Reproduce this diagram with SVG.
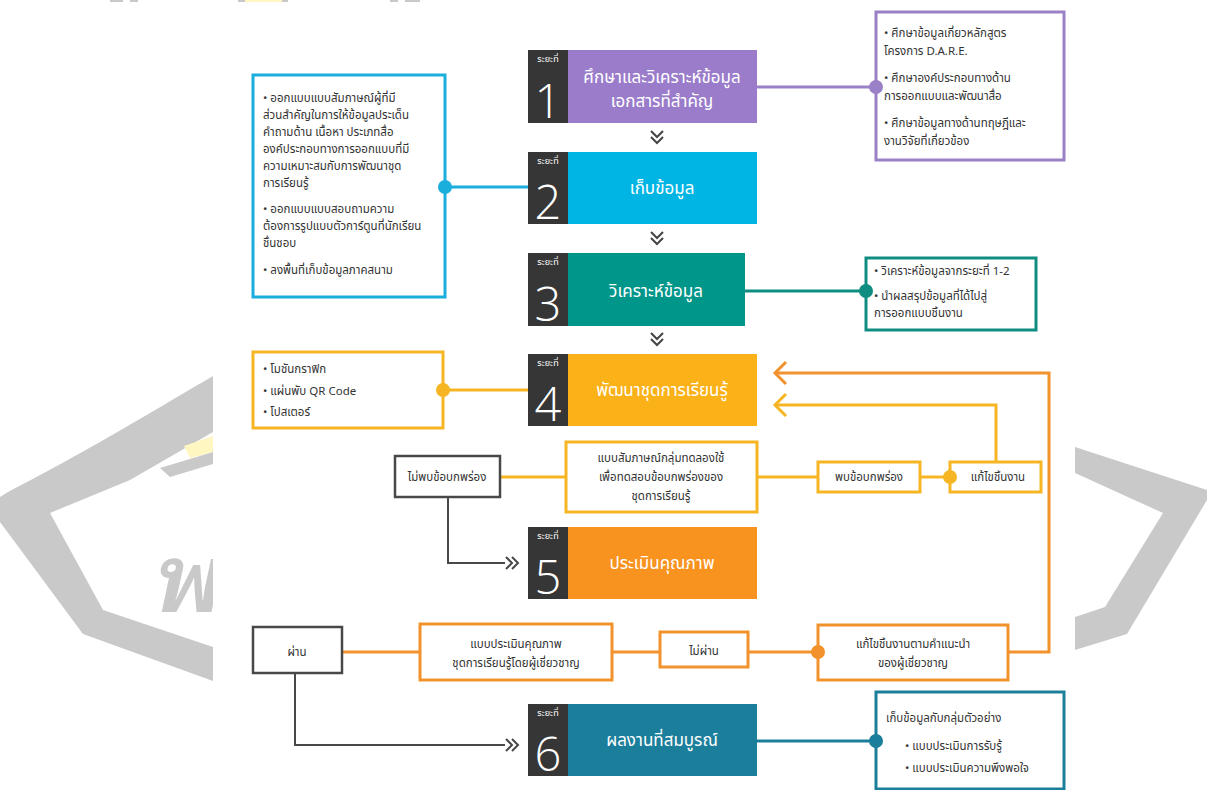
<svg xmlns="http://www.w3.org/2000/svg" width="1208" height="790" viewBox="0 0 1208 790">
  <style>
    .th { font-family: "Noto Sans Thai", "Noto Sans", "DejaVu Sans", sans-serif; }
    .stage-title { font-size: 17px; fill: #ffffff; text-anchor: middle; }
    .tag { font-size: 9px; fill: #ffffff; text-anchor: middle; }
    .digit { font-family: "Open Sans", "Lato", sans-serif; font-weight: 300; font-size: 47px; fill: #ffffff; text-anchor: middle; }
    .note { font-size: 11.5px; fill: #333333; }
    .lbl { font-size: 11.5px; fill: #333333; text-anchor: middle; }
    .dark { fill: #363636; }
    .box-amber { fill: #ffffff; stroke: #f6b624; stroke-width: 3; }
    .box-orange { fill: #ffffff; stroke: #f2922c; stroke-width: 3; }
    .box-grey { fill: #ffffff; stroke: #484848; stroke-width: 2.5; }
    .ln-amber { stroke: #f6b624; stroke-width: 3; fill: none; }
    .ln-orange { stroke: #f2922c; stroke-width: 3; fill: none; }
    .ln-grey { stroke: #484848; stroke-width: 2; fill: none; }
    .chev { stroke: #444444; stroke-width: 2; fill: none; }
    .wm { fill: #c9c9c9; }
  </style>

  <!-- background emblem -->
  <g id="emblem">
    <rect x="0" y="0" width="1208" height="790" fill="#ffffff"/>
    <path class="wm" d="M213,376 C175,398 90,450 8,492 L0,497 L0,522 L83,634 L213,681 L213,647 L103,610 L50,513 L130,480 L213,432 Z"/>
    <path d="M184,446 L213,436 L213,452 L190,458 Z" fill="#fff6c2"/>
    <path class="wm" d="M160,468 L213,452 L213,464 L170,477 Z"/>
    <text x="0" y="0" transform="translate(150,612) skewX(-12)" font-family="Noto Sans Thai Looped, Noto Sans Thai, sans-serif" font-weight="600" font-size="95" fill="#c9c9c9">พ</text>
    <path class="wm" d="M1075,447 L1207,490 L1207,500 L1127,634 L1075,650 L1075,617 L1105,607 L1163,513 L1075,473 Z"/>
    <rect x="110" y="0" width="13" height="2" fill="#c9c9c9"/>
    <rect x="130" y="0" width="8" height="2" fill="#c9c9c9"/>
    <rect x="238" y="0" width="7" height="2" fill="#c9c9c9"/>
    <rect x="245" y="0" width="37" height="2" fill="#fff6c2"/>
    <rect x="282" y="0" width="6" height="2" fill="#c9c9c9"/>
    <rect x="390" y="0" width="8" height="2" fill="#c9c9c9"/>
    <rect x="405" y="0" width="15" height="2" fill="#c9c9c9"/>
    <rect x="213" y="3" width="862" height="787" fill="#ffffff"/>
  </g>

  <!-- connectors -->
  <g id="connectors">
    <line x1="757" y1="87" x2="876" y2="87" stroke="#9a80c6" stroke-width="3"/>
    <line x1="445" y1="187" x2="528" y2="187" stroke="#1aaedc" stroke-width="3"/>
    <line x1="745" y1="291" x2="866" y2="291" stroke="#0f8d81" stroke-width="3"/>
    <line x1="443" y1="390" x2="528" y2="390" class="ln-amber"/>
    <line x1="757" y1="741" x2="876" y2="741" stroke="#1b7e9a" stroke-width="3"/>

    <!-- review row -->
    <line x1="500" y1="477" x2="566" y2="477" class="ln-amber"/>
    <line x1="757" y1="477" x2="818" y2="477" class="ln-amber"/>
    <line x1="920" y1="477" x2="950" y2="477" class="ln-amber"/>
    <path d="M996,462 L996,405 L775,405" class="ln-amber"/>
    <path d="M786,394 L775,405 L786,416" class="ln-amber"/>

    <!-- expert row -->
    <line x1="342" y1="652" x2="420" y2="652" class="ln-orange"/>
    <line x1="612" y1="652" x2="660" y2="652" class="ln-orange"/>
    <line x1="748" y1="652" x2="818" y2="652" class="ln-orange"/>
    <path d="M1008,652 L1049,652 L1049,373 L775,373" class="ln-orange"/>
    <path d="M786,362 L775,373 L786,384" class="ln-orange"/>

    <!-- pass / no-defect paths -->
    <path d="M448,497 L448,563 L505,563" class="ln-grey"/>
    <path d="M506,557 L512,563 L506,569 M512,557 L518,563 L512,569" class="ln-grey"/>
    <path d="M295,673 L295,745 L505,745" class="ln-grey"/>
    <path d="M506,739 L512,745 L506,751 M512,739 L518,745 L512,751" class="ln-grey"/>

    <!-- stage-to-stage chevrons -->
    <path d="M651,131 L657,137 L663,131 M651,137 L657,143 L663,137" class="chev"/>
    <path d="M651,232 L657,238 L663,232 M651,238 L657,244 L663,238" class="chev"/>
    <path d="M651,333 L657,339 L663,333 M651,339 L657,345 L663,339" class="chev"/>
  </g>

  <!-- stage 1 -->
  <g id="stage1" class="th">
    <rect x="567" y="50" width="190" height="73" fill="#9a7cca"/>
    <rect x="528" y="50" width="40" height="73" class="dark"/>
    <text x="548" y="62" class="tag th">ระยะที่</text>
    <text x="548" y="118" class="digit">1</text>
    <text x="662" y="83" class="stage-title th">ศึกษาและวิเคราะห์ข้อมูล</text>
    <text x="662" y="107" class="stage-title th">เอกสารที่สำคัญ</text>
  </g>

  <g id="note1" class="th">
    <rect x="876" y="12" width="188" height="148" fill="#ffffff" stroke="#9a80c6" stroke-width="3"/>
    <circle cx="876" cy="87" r="7" fill="#9a80c6"/>
    <text class="note th" x="884" y="37">• ศึกษาข้อมูลเกี่ยวหลักสูตร</text>
    <text class="note th" x="884" y="55">โครงการ D.A.R.E.</text>
    <text class="note th" x="884" y="82">• ศึกษาองค์ประกอบทางด้าน</text>
    <text class="note th" x="884" y="100">การออกแบบและพัฒนาสื่อ</text>
    <text class="note th" x="884" y="127">• ศึกษาข้อมูลทางด้านทฤษฎีและ</text>
    <text class="note th" x="884" y="145">งานวิจัยที่เกี่ยวข้อง</text>
  </g>

  <!-- stage 2 -->
  <g id="stage2" class="th">
    <rect x="567" y="152" width="190" height="72" fill="#00b5e4"/>
    <rect x="528" y="152" width="40" height="72" class="dark"/>
    <text x="548" y="164" class="tag th">ระยะที่</text>
    <text x="548" y="219" class="digit">2</text>
    <text x="662" y="194" class="stage-title th">เก็บข้อมูล</text>
  </g>

  <g id="note2" class="th">
    <rect x="253" y="75" width="192" height="222" fill="#ffffff" stroke="#1aaedc" stroke-width="3"/>
    <circle cx="445" cy="187" r="7" fill="#1aaedc"/>
    <text class="note th" x="263" y="102">• ออกแบบแบบสัมภาษณ์ผู้ที่มี</text>
    <text class="note th" x="263" y="119">ส่วนสำคัญในการให้ข้อมูลประเด็น</text>
    <text class="note th" x="263" y="136">คำถามด้าน เนื้อหา ประเภทสื่อ</text>
    <text class="note th" x="263" y="153">องค์ประกอบทางการออกแบบที่มี</text>
    <text class="note th" x="263" y="170">ความเหมาะสมกับการพัฒนาชุด</text>
    <text class="note th" x="263" y="187">การเรียนรู้</text>
    <text class="note th" x="263" y="213">• ออกแบบแบบสอบถามความ</text>
    <text class="note th" x="263" y="230">ต้องการรูปแบบตัวการ์ตูนที่นักเรียน</text>
    <text class="note th" x="263" y="247">ชื่นชอบ</text>
    <text class="note th" x="263" y="274">• ลงพื้นที่เก็บข้อมูลภาคสนาม</text>
  </g>

  <!-- stage 3 -->
  <g id="stage3" class="th">
    <rect x="567" y="253" width="178" height="73" fill="#00968a"/>
    <rect x="528" y="253" width="40" height="73" class="dark"/>
    <text x="548" y="265" class="tag th">ระยะที่</text>
    <text x="548" y="321" class="digit">3</text>
    <text x="656" y="297" class="stage-title th">วิเคราะห์ข้อมูล</text>
  </g>

  <g id="note3" class="th">
    <rect x="866" y="258" width="170" height="72" fill="#ffffff" stroke="#0f8d81" stroke-width="3"/>
    <circle cx="866" cy="291" r="7" fill="#0f8d81"/>
    <text class="note th" x="874" y="275">• วิเคราะห์ข้อมูลจากระยะที่ 1-2</text>
    <text class="note th" x="874" y="300">• นำผลสรุปข้อมูลที่ได้ไปสู่</text>
    <text class="note th" x="874" y="317">การออกแบบชิ้นงาน</text>
  </g>

  <!-- stage 4 -->
  <g id="stage4" class="th">
    <rect x="567" y="354" width="190" height="72" fill="#fbb118"/>
    <rect x="528" y="354" width="40" height="72" class="dark"/>
    <text x="548" y="366" class="tag th">ระยะที่</text>
    <text x="548" y="421" class="digit">4</text>
    <text x="662" y="396" class="stage-title th">พัฒนาชุดการเรียนรู้</text>
  </g>

  <g id="note4" class="th">
    <rect x="253" y="352" width="190" height="76" class="box-amber"/>
    <circle cx="443" cy="390" r="7" fill="#f6b624"/>
    <text class="note th" x="263" y="373">• โมชันกราฟิก</text>
    <text class="note th" x="263" y="395">• แผ่นพับ QR Code</text>
    <text class="note th" x="263" y="416">• โปสเตอร์</text>
  </g>

  <!-- trial review row -->
  <g id="no-defect" class="th">
    <rect x="395" y="456" width="105" height="41" class="box-grey"/>
    <text class="lbl th" x="447" y="481">ไม่พบข้อบกพร่อง</text>
  </g>
  <g id="trial-interview" class="th">
    <rect x="566" y="442" width="191" height="70" class="box-amber"/>
    <text class="lbl th" x="661" y="462">แบบสัมภาษณ์กลุ่มทดลองใช้</text>
    <text class="lbl th" x="661" y="481">เพื่อทดสอบข้อบกพร่องของ</text>
    <text class="lbl th" x="661" y="500">ชุดการเรียนรู้</text>
  </g>
  <g id="defect-found" class="th">
    <rect x="818" y="462" width="102" height="30" class="box-amber"/>
    <text class="lbl th" x="869" y="481">พบข้อบกพร่อง</text>
  </g>
  <g id="fix-work" class="th">
    <rect x="950" y="462" width="91" height="30" class="box-amber"/>
    <circle cx="950" cy="477" r="7" fill="#f6b624"/>
    <text class="lbl th" x="998" y="481">แก้ไขชิ้นงาน</text>
  </g>

  <!-- stage 5 -->
  <g id="stage5" class="th">
    <rect x="567" y="527" width="190" height="72" fill="#f8931f"/>
    <rect x="528" y="527" width="40" height="72" class="dark"/>
    <text x="548" y="539" class="tag th">ระยะที่</text>
    <text x="548" y="594" class="digit">5</text>
    <text x="662" y="569" class="stage-title th">ประเมินคุณภาพ</text>
  </g>

  <!-- expert review row -->
  <g id="pass" class="th">
    <rect x="253" y="627" width="89" height="46" class="box-grey"/>
    <text class="lbl th" x="297" y="656">ผ่าน</text>
  </g>
  <g id="expert-form" class="th">
    <rect x="420" y="624" width="192" height="56" class="box-orange"/>
    <text class="lbl th" x="516" y="648">แบบประเมินคุณภาพ</text>
    <text class="lbl th" x="516" y="667">ชุดการเรียนรู้โดยผู้เชี่ยวชาญ</text>
  </g>
  <g id="fail" class="th">
    <rect x="660" y="632" width="88" height="35" class="box-orange"/>
    <text class="lbl th" x="704" y="655">ไม่ผ่าน</text>
  </g>
  <g id="expert-fix" class="th">
    <rect x="818" y="625" width="190" height="55" class="box-orange"/>
    <circle cx="818" cy="652" r="7" fill="#f2922c"/>
    <text class="lbl th" x="913" y="648">แก้ไขชิ้นงานตามคำแนะนำ</text>
    <text class="lbl th" x="913" y="667">ของผู้เชี่ยวชาญ</text>
  </g>

  <!-- stage 6 -->
  <g id="stage6" class="th">
    <rect x="567" y="704" width="190" height="72" fill="#1b7e9a"/>
    <rect x="528" y="704" width="40" height="72" class="dark"/>
    <text x="548" y="716" class="tag th">ระยะที่</text>
    <text x="548" y="771" class="digit">6</text>
    <text x="662" y="746" class="stage-title th">ผลงานที่สมบูรณ์</text>
  </g>

  <g id="note6" class="th">
    <rect x="876" y="692" width="188" height="97" fill="#ffffff" stroke="#1b7e9a" stroke-width="3"/>
    <circle cx="876" cy="741" r="7" fill="#1b7e9a"/>
    <text class="note th" x="886" y="722">เก็บข้อมูลกับกลุ่มตัวอย่าง</text>
    <text class="note th" x="905" y="750">• แบบประเมินการรับรู้</text>
    <text class="note th" x="905" y="772">• แบบประเมินความพึงพอใจ</text>
  </g>
</svg>
